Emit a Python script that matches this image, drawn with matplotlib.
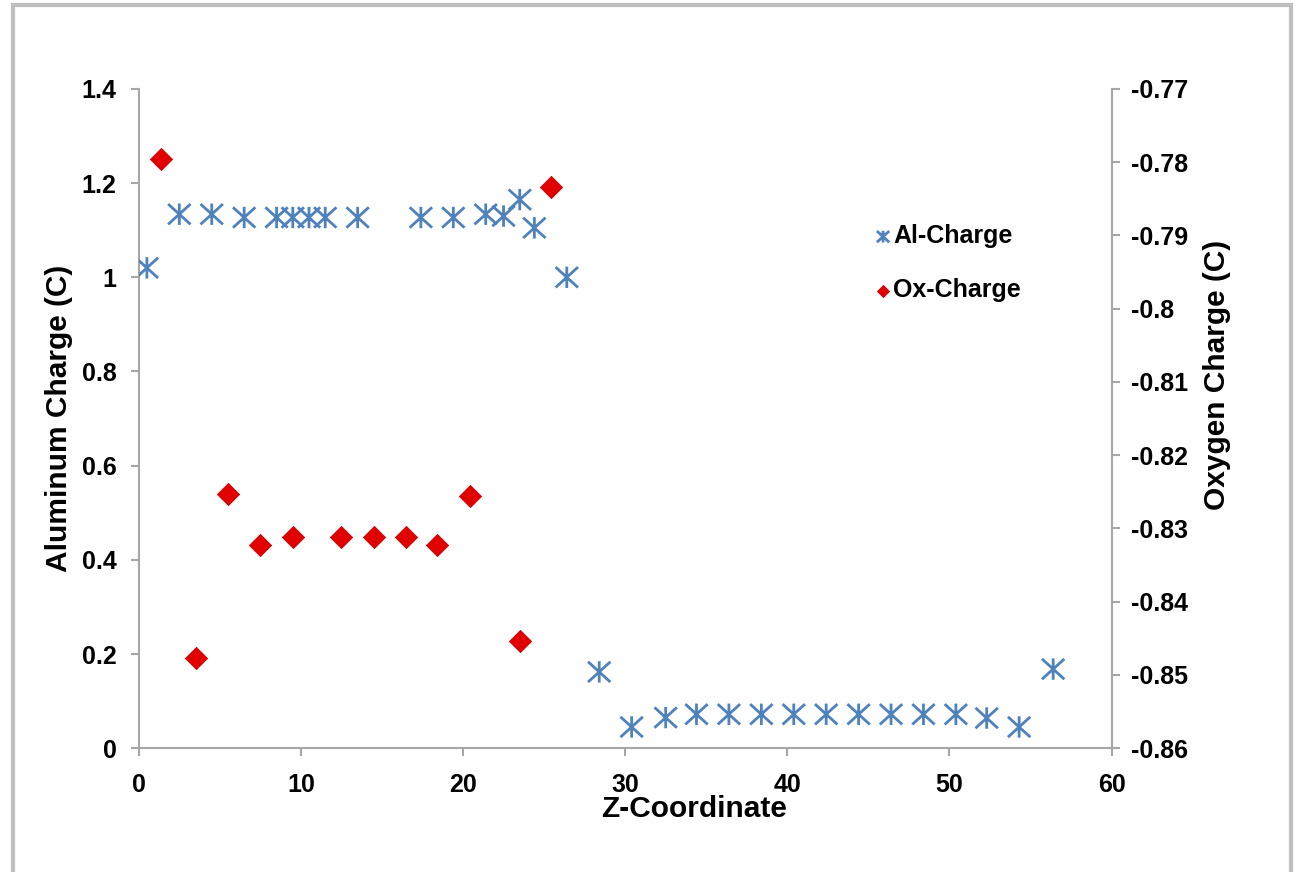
import matplotlib
matplotlib.use("Agg")
import matplotlib.pyplot as plt
from matplotlib.path import Path
from matplotlib.patches import Rectangle

# Al charges (left axis)
al_z = [0.5, 2.5, 4.5, 6.5, 8.5, 9.5, 10.5, 11.5, 13.5, 17.4, 19.4, 21.4, 22.5,
        23.5, 24.4, 26.4, 28.4, 30.4, 32.5, 34.4, 36.4, 38.4, 40.4, 42.4, 44.4,
        46.4, 48.4, 50.4, 52.3, 54.3, 56.4]
al_charge = [1.02, 1.134, 1.134, 1.127, 1.127, 1.127, 1.127, 1.127, 1.127, 1.127,
             1.127, 1.134, 1.13, 1.165, 1.105, 1.0, 0.162, 0.045, 0.065, 0.072,
             0.072, 0.072, 0.072, 0.072, 0.072, 0.072, 0.072, 0.072, 0.064, 0.045,
             0.168]

# O charges (right axis)
ox_z = [1.4, 3.5, 5.5, 7.5, 9.5, 12.5, 14.5, 16.5, 18.4, 20.4, 23.5, 25.4]
ox_charge = [-0.7796, -0.8477, -0.8253, -0.8323, -0.8312, -0.8312, -0.8312,
             -0.8312, -0.8323, -0.8256, -0.8454, -0.7834]

left_ticks = [0, 0.2, 0.4, 0.6, 0.8, 1.0, 1.2, 1.4]
left_labels = ["0", "0.2", "0.4", "0.6", "0.8", "1", "1.2", "1.4"]
right_ticks = [-0.86, -0.85, -0.84, -0.83, -0.82, -0.81, -0.8, -0.79, -0.78, -0.77]
right_labels = ["-0.86", "-0.85", "-0.84", "-0.83", "-0.82", "-0.81", "-0.8",
                "-0.79", "-0.78", "-0.77"]

plt.rcParams["font.family"] = ["Liberation Sans", "DejaVu Sans"]
plt.rcParams["font.weight"] = "bold"

# excel style star: an X plus a vertical bar
star = Path([(-1.1, -1), (1.1, 1), (-1.1, 1), (1.1, -1), (0, -1.05), (0, 1.05)],
            [Path.MOVETO, Path.LINETO, Path.MOVETO, Path.LINETO, Path.MOVETO, Path.LINETO])

fig = plt.figure(figsize=(12.97, 8.72), dpi=100)
ax = fig.add_axes([0.107, 0.142, 0.750, 0.756])
ax2 = ax.twinx()

grey = "#a6a6a6"
fs = 18
lfs = 21.5

ax.scatter(al_z, al_charge, marker=star, s=260, facecolor="none",
           edgecolors="#4f81bd", linewidths=2.0, label="Al-Charge", zorder=3)
ax2.scatter(ox_z, ox_charge, marker="D", s=130, color="#e00000",
            edgecolors="#c00000", linewidths=0.5, label="Ox-Charge", zorder=3)

ax.set_xlim(0, 60)
ax.set_ylim(0, 1.4)
ax2.set_ylim(-0.86, -0.77)
ax.set_xticks([0, 10, 20, 30, 40, 50, 60])
ax.set_yticks(left_ticks)
ax.set_yticklabels(left_labels)
ax2.set_yticks(right_ticks)
ax2.set_yticklabels(right_labels)

for a in (ax, ax2):
    a.spines["top"].set_visible(False)
    for s in ("left", "right", "bottom"):
        a.spines[s].set_color(grey)
        a.spines[s].set_linewidth(1.5)
    a.tick_params(axis="both", labelsize=fs, colors=grey, labelcolor="black",
                  length=6, width=1.5, pad=6)
ax.tick_params(axis="x", pad=12)
ax.tick_params(axis="y", pad=10)
ax2.tick_params(axis="y", pad=8)
ax.spines["right"].set_visible(False)
ax2.spines["left"].set_visible(False)
ax2.spines["bottom"].set_visible(False)

ax.set_xlabel("Z-Coordinate", fontsize=lfs, fontweight="bold")
ax.set_ylabel("Aluminum Charge (C)", fontsize=lfs, fontweight="bold")
ax2.set_ylabel("Oxygen Charge (C)", fontsize=lfs, fontweight="bold")
ax.xaxis.set_label_coords(0.571, -0.071)
ax.yaxis.set_label_coords(-0.068, 0.5)
ax2.yaxis.set_label_coords(1.094, 0.566)

h1, l1 = ax.get_legend_handles_labels()
h2, l2 = ax2.get_legend_handles_labels()
leg = ax2.legend(h1 + h2, l1 + l2, loc="upper left", bbox_to_anchor=(0.742, 0.81),
                 frameon=False, fontsize=fs, handlelength=1.0, handletextpad=-0.1,
                 labelspacing=1.2, markerscale=0.55, borderaxespad=0)

fig.patches.append(Rectangle((0.010, -0.05), 0.985, 1.044, transform=fig.transFigure,
                             fill=False, edgecolor="#bfbfbf", linewidth=3))

fig.savefig("out.png", dpi=100)
